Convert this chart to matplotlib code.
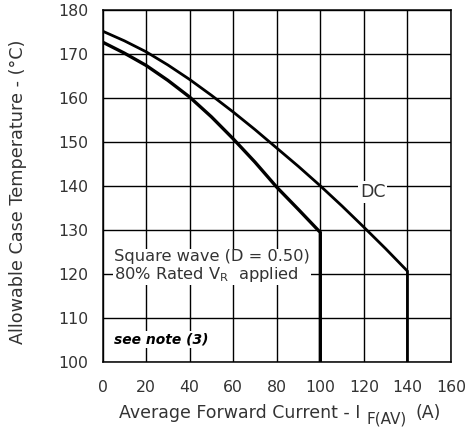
import matplotlib
matplotlib.use("Agg")
import matplotlib.pyplot as plt

# Data
dc_x = [0, 10, 20, 30, 40, 50, 60, 70, 80, 90, 100, 110, 120, 130, 140, 140]
dc_y = [175.2, 173.0, 170.5, 167.5, 164.2, 160.6, 156.8, 152.8, 148.6, 144.4, 140.0, 135.4, 130.6, 125.7, 120.6, 100]
sq_x = [0, 10, 20, 30, 40, 50, 60, 70, 80, 90, 100, 100]
sq_y = [172.7, 170.2, 167.4, 164.0, 160.2, 155.7, 150.7, 145.4, 139.7, 134.6, 129.4, 100]
x_ticks = [0, 20, 40, 60, 80, 100, 120, 140, 160]
y_ticks = [100, 110, 120, 130, 140, 150, 160, 170, 180]

FONT = "DejaVu Sans"
plt.rcParams['font.family'] = [FONT]
plt.rcParams['mathtext.fontset'] = 'dejavusans'
TXT = '#333333'

fig = plt.figure(figsize=(4.68, 4.32), dpi=100)
ax = fig.add_axes([102.5/468, 1 - 361.7/432, (451 - 102.5)/468, (361.7 - 10)/432])

ax.set_xlim(0, 160)
ax.set_ylim(100, 180)
ax.set_xticks(x_ticks)
ax.set_yticks(y_ticks)
ax.grid(True, color='black', linewidth=1.0)
ax.set_axisbelow(True)
for s in ax.spines.values():
    s.set_linewidth(1.1)
ax.tick_params(length=0, labelsize=11.3, colors=TXT)
ax.tick_params(axis='x', pad=13)
ax.tick_params(axis='y', pad=10)

ax.plot(dc_x, dc_y, color='black', linewidth=2.0, solid_joinstyle='miter', zorder=3)
ax.plot(sq_x, sq_y, color='black', linewidth=2.4, solid_joinstyle='miter', zorder=3)

ax.text(124, 138.6, "DC", fontsize=12.5, ha='center', va='center', color=TXT,
        bbox=dict(facecolor='white', edgecolor='none', pad=1.5), zorder=4)
ax.text(5.4, 121.7, "Square wave (D = 0.50)\n" + r"80% Rated V$_{\mathregular{R}}$  applied",
        fontsize=11.7, ha='left', va='center', color=TXT, linespacing=1.1,
        bbox=dict(facecolor='white', edgecolor='none', pad=1.0), zorder=4)
ax.text(5.5, 105, "see note (3)", fontsize=10, ha='left', va='center', color='black',
        fontweight='bold', fontstyle='italic',
        bbox=dict(facecolor='white', edgecolor='none', pad=1), zorder=4)

ax.set_ylabel("Allowable Case Temperature - (°C)", fontsize=12.7, color=TXT)
ax.yaxis.set_label_coords((27 - 102.5) / 348.5, (361.7 - 192) / 351.7)

# x label assembled from pieces (large, lowered subscript)
fig.canvas.draw()
r = fig.canvas.get_renderer()
ylab = 1 - 413/432
t1 = fig.text(0, ylab, "Average Forward Current - I", fontsize=12.5, color=TXT, va='center', ha='left')
t2 = fig.text(0, ylab - 6/432, "F(AV)", fontsize=11, color=TXT, va='center', ha='left')
t3 = fig.text(0, ylab, "(A)", fontsize=12.5, color=TXT, va='center', ha='left')
w1 = t1.get_window_extent(r).width
w2 = t2.get_window_extent(r).width
w3 = t3.get_window_extent(r).width
gap1, gap2 = 6, 9
total = w1 + gap1 + w2 + gap2 + w3
start = (102.5 + 451) / 2 - total / 2 + 3
t1.set_x(start / 468)
t2.set_x((start + w1 + gap1) / 468)
t3.set_x((start + w1 + gap1 + w2 + gap2) / 468)

fig.savefig("out.png", dpi=100)
